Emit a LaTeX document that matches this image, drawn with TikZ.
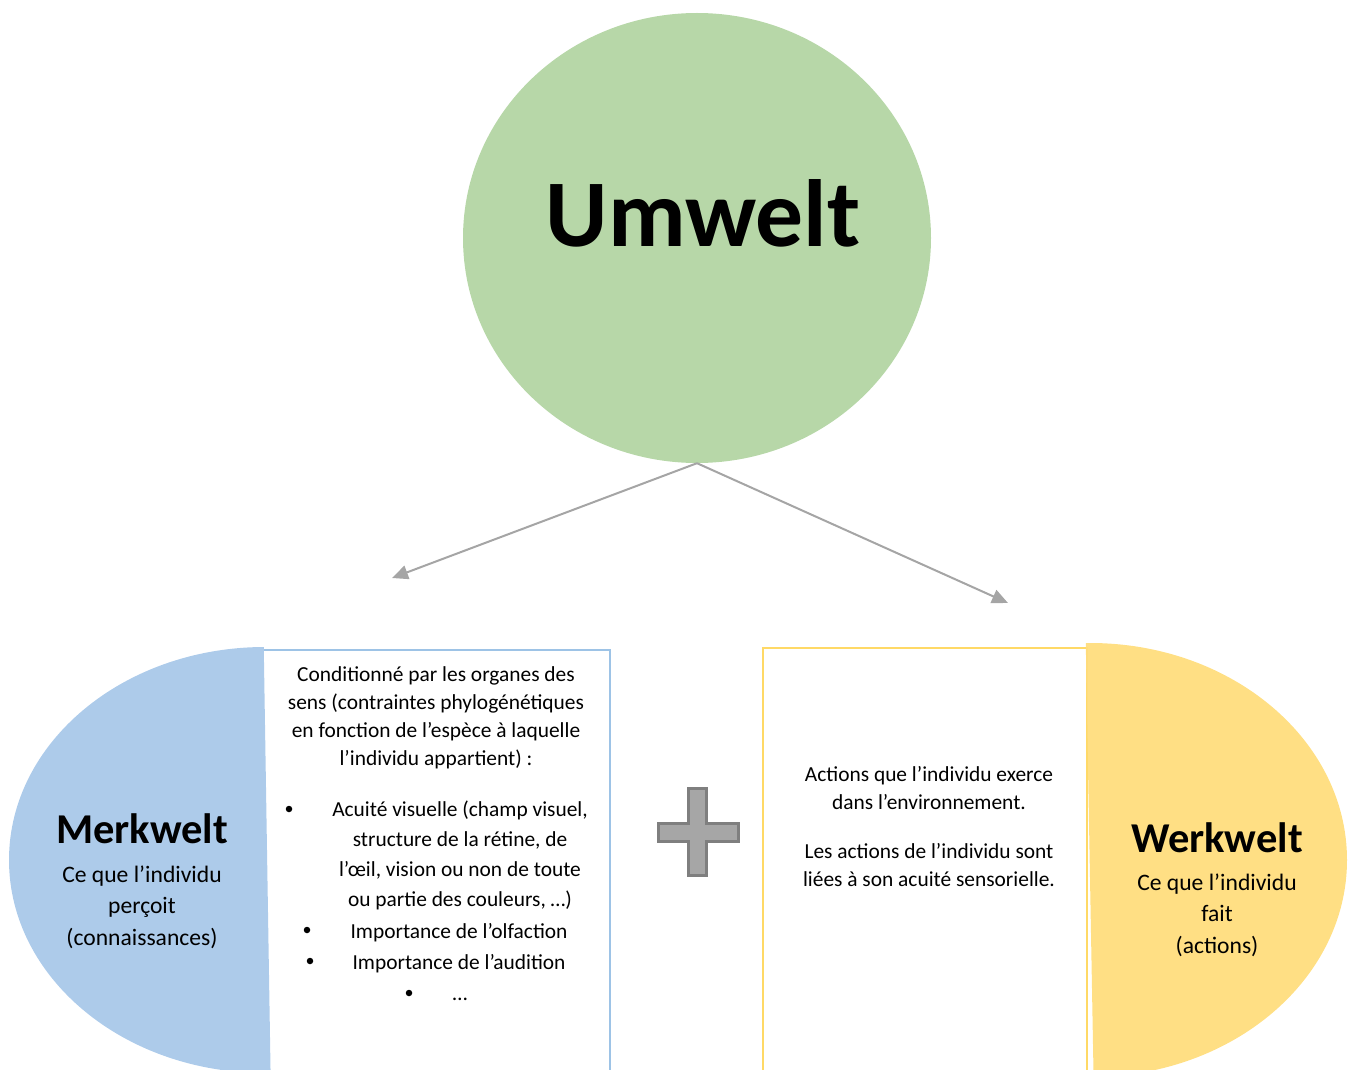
\documentclass[tikz,border=0pt]{standalone}
\usepackage{fontspec}
\setmainfont{Carlito}
\usetikzlibrary{shapes.geometric,arrows.meta}
\definecolor{umgreen}{RGB}{183,215,168}
\definecolor{mblue}{RGB}{173,203,234}
\definecolor{mblueline}{RGB}{157,195,230}
\definecolor{wyellow}{RGB}{255,221,125}
\definecolor{wyline}{RGB}{255,217,102}
\definecolor{arrgray}{RGB}{165,165,165}
\definecolor{plusfill}{RGB}{166,166,166}
\definecolor{plusline}{RGB}{127,127,127}
\begin{document}
\begin{tikzpicture}[x=1pt,y=-1pt,
  body/.style={font=\fontsize{21.4}{28}\selectfont, inner sep=0pt, anchor=base, align=center},
  listtxt/.style={font=\fontsize{21.4}{30}\selectfont, inner sep=0pt, anchor=base, align=center},
  title/.style={font=\fontsize{42.5}{48}\selectfont\bfseries, inner sep=0pt, anchor=base},
  sub/.style={font=\fontsize{23.6}{31.5}\selectfont, inner sep=0pt, anchor=base, align=center},
  bul/.style={circle, fill=black, inner sep=0pt, minimum size=6.5pt},
  conn/.style={draw=arrgray, line width=2pt, -{Triangle[length=16pt,width=14pt]}},
]
\useasboundingbox (0,0) rectangle (1350,1070);

% Umwelt
\node[ellipse, fill=umgreen, minimum width=468pt, minimum height=450pt, inner sep=0pt] (umwelt) at (697,238) {};
\node[font=\fontsize{95.5}{100}\selectfont\bfseries, inner sep=0pt, anchor=base] (umtxt) at (703,246) {Umwelt};

% arrows
\coordinate (mtip) at (392,578);
\coordinate (wtip) at (1008,603);
\draw[conn] (umwelt.south) -- (mtip);
\draw[conn] (umwelt.south) -- (wtip);

% boxes
\draw[mblueline, line width=1.5pt] (263,650) rectangle (610,1080);
\draw[wyline, line width=1.5pt] (763,648) rectangle (1087,1080);

% blue half ellipse
\begin{scope}
  \clip (263,600) -- (271,1100) -- (-10,1100) -- (-10,600) -- cycle;
  \fill[mblue] (265,860) ellipse [x radius=256pt, y radius=213pt];
\end{scope}
% yellow half ellipse
\begin{scope}
  \clip (1085,600) -- (1094,1100) -- (1400,1100) -- (1400,600) -- cycle;
  \fill[wyellow, opacity=0.95] (1090,860) ellipse [x radius=257pt, y radius=217pt];
\end{scope}

% plus
\draw[plusline, fill=plusfill, line width=3pt]
  (688,788) -- (706,788) -- (706,823) -- (738,823) -- (738,841) -- (706,841)
  -- (706,875) -- (688,875) -- (688,841) -- (658,841) -- (658,823) -- (688,823) -- cycle;

% Merkwelt
\node[title] (merk) at (142,843) {Merkwelt};
\node[sub] (merksub) at (142,945) {Ce que l’individu\\perçoit\\(connaissances)};

% Werkwelt
\node[title] (werk) at (1217,852) {Werkwelt};
\node[sub] (werksub) at (1217,953) {Ce que l’individu\\fait\\(actions)};

% left box text
\node[body] (cond) at (436,765) {Conditionné par les organes des\\sens (contraintes phylogénétiques\\en fonction de l’espèce à laquelle\\l’individu appartient) :};
\node[listtxt] (l1) at (460,906) {Acuité visuelle (champ visuel,\\structure de la rétine, de\\l’œil, vision ou non de toute\\ou partie des couleurs, …)};
\node[listtxt] (l2) at (459,938) {Importance de l’olfaction};
\node[listtxt] (l3) at (459,969) {Importance de l’audition};
\node[listtxt] (l4) at (460,1000) {…};
\node[bul] (b1) at (289,809) {};
\node[bul] (b2) at (307,930) {};
\node[bul] (b3) at (310,961) {};
\node[bul] (b4) at (409,993) {};

% right box text
\node[body] (act) at (929,809) {Actions que l’individu exerce\\dans l’environnement.};
\node[body] (act2) at (929,886) {Les actions de l’individu sont\\liées à son acuité sensorielle.};
\end{tikzpicture}
\end{document}
